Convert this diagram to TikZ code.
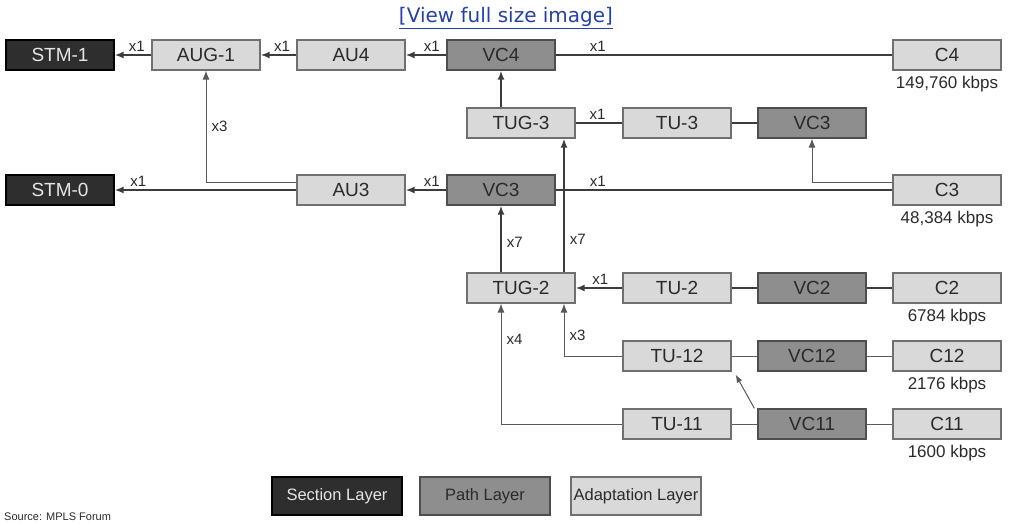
\documentclass[tikz,border=0pt]{standalone}
\usepackage{fontspec}
\setmainfont{Liberation Sans}
\newfontfamily\linkfont{DejaVu Sans}
\usetikzlibrary{arrows.meta,positioning}
\definecolor{secfill}{HTML}{2E2E2E}
\definecolor{pathfill}{HTML}{8E8E8E}
\definecolor{adfill}{HTML}{D9D9D9}
\definecolor{edge}{HTML}{707070}
\definecolor{wire}{HTML}{3C3C3C}
\definecolor{ink}{HTML}{2A2A2A}
\definecolor{linkblue}{HTML}{2540A8}
\tikzset{
  box/.style={draw=edge, line width=1.2pt, minimum width=108pt, minimum height=30pt,
              inner sep=0pt, text=ink, font=\fontsize{19}{21}\selectfont},
  secbox/.style={box, fill=secfill, draw=black, text=white!90!black},
  pathbox/.style={box, fill=pathfill, draw=edge!70!black},
  adbox/.style={box, fill=adfill},
  keybox/.style={minimum width=130pt, minimum height=38pt, font=\fontsize{16.5}{19}\selectfont},
  ar/.style={-{Latex[length=9pt,width=7pt]}, line width=1.8pt, draw=wire},
  ln/.style={line width=1.8pt, draw=wire},
  thinar/.style={-{Latex[length=9pt,width=7pt]}, line width=1pt, draw=wire!85},
  thinln/.style={line width=1pt, draw=wire!85},
  lbl/.style={font=\fontsize{15}{17}\selectfont, text=ink, inner sep=1pt},
  rate/.style={font=\fontsize{17}{19}\selectfont, text=ink, inner sep=0pt}
}

\begin{document}
\begin{tikzpicture}[x=1pt,y=-1pt]
  \useasboundingbox (0,0) rectangle (1009,524);

  \node[font=\linkfont\fontsize{20}{22}\selectfont, text=linkblue] (link) at (506,18)
    {\underline{[View full size image]}};

  % top row
  \node[secbox] (stm1) at (60,55) {STM-1};
  \node[adbox] (aug1) at (206,55) {AUG-1};
  \node[adbox] (au4) at (351,55) {AU4};
  \node[pathbox] (vc4) at (501,55) {VC4};
  \node[adbox] (c4) at (947,55) {C4};
  \node[rate, below=5pt of c4] (r4) {149,760 kbps};

  \node[adbox] (tug3) at (521,123) {TUG-3};
  \node[adbox] (tu3) at (677,123) {TU-3};
  \node[pathbox] (vc3a) at (812,123) {VC3};

  \node[secbox] (stm0) at (60,190) {STM-0};
  \node[adbox] (au3) at (351,190) {AU3};
  \node[pathbox] (vc3) at (501,190) {VC3};
  \node[adbox] (c3) at (947,190) {C3};
  \node[rate, below=5pt of c3] (r3) {48,384 kbps};

  \node[adbox] (tug2) at (521,288) {TUG-2};
  \node[adbox] (tu2) at (677,288) {TU-2};
  \node[pathbox] (vc2) at (812,288) {VC2};
  \node[adbox] (c2) at (947,288) {C2};
  \node[rate, below=5pt of c2] (r2) {6784 kbps};

  \node[adbox] (tu12) at (677,356) {TU-12};
  \node[pathbox] (vc12) at (812,356) {VC12};
  \node[adbox] (c12) at (947,356) {C12};
  \node[rate, below=5pt of c12] (r12) {2176 kbps};

  \node[adbox] (tu11) at (677,424) {TU-11};
  \node[pathbox] (vc11) at (812,424) {VC11};
  \node[adbox] (c11) at (947,424) {C11};
  \node[rate, below=5pt of c11] (r11) {1600 kbps};

  % connectors
  \draw[ar] (aug1) -- node[lbl, above=2pt, pos=0.4] (m1) {x1} (stm1);
  \draw[ar] (au4) -- node[lbl, above=2pt, pos=0.4] (m2) {x1} (aug1);
  \draw[ar] (vc4) -- node[lbl, above=2pt, pos=0.36] (m3) {x1} (au4);
  \draw[ln] (vc4) -- node[lbl, above=2pt, pos=0.125] (m4) {x1} (c4);
  \draw[ar] (tug3.north -| vc4) -- (vc4);
  \draw[ln] (tug3) -- node[lbl, above=2pt, pos=0.47] (m5) {x1} (tu3);
  \draw[ln] (tu3) -- (vc3a);
  \draw[thinar] ([yshift=8pt]c3.west) -| (vc3a);

  \draw[ar] (au3) -- node[lbl, above=2pt, pos=0.87] (m6) {x1} (stm0);
  \draw[thinar] ([yshift=8pt]au3.west) -| node[lbl, right=4pt, pos=0.75] (m7) {x3} (aug1);
  \draw[ar] (vc3) -- node[lbl, above=2pt, pos=0.36] (m8) {x1} (au3);
  \draw[ln] (vc3) -- node[lbl, above=2pt, pos=0.125] (m9) {x1} (c3);

  \draw[ar] (tug2.north -| vc3) -- node[lbl, right=4pt, pos=0.45] (m10) {x7} (vc3);
  \draw[ar] ([xshift=43pt]tug2.north) -- node[lbl, right=4pt, pos=0.25] (m11) {x7} ([xshift=43pt]tug3.south);
  \draw[ar] (tu2) -- node[lbl, above=2pt, pos=0.47] (m12) {x1} (tug2);
  \draw[ln] (tu2) -- (vc2);
  \draw[ln] (vc2) -- (c2);

  \draw[thinar] (tu12) -| node[lbl, right=4pt, pos=0.7] (m13) {x3} ([xshift=43pt]tug2.south);
  \draw[thinln] (tu12) -- (vc12);
  \draw[thinln] (vc12) -- (c12);
  \draw[thinar] (tu11) -| node[lbl, right=4pt, pos=0.85] (m14) {x4} (tug2.south -| vc3);
  \draw[thinln] (tu11) -- (vc11);
  \draw[thinln] (vc11) -- (c11);
  \draw[thinar, -{Latex[length=8pt,width=6pt]}] ([xshift=-3pt]vc11.north west) -- ([xshift=4pt,yshift=-3pt]tu12.south east);

  % legend
  \node[secbox, keybox] (ksec) at (337,496) {Section Layer};
  \node[pathbox, keybox] (kpath) at (485,496) {Path Layer};
  \node[adbox, keybox] (kad) at (636,496) {Adaptation Layer};
  \node[font=\fontsize{11}{13}\selectfont, text=ink, anchor=west, inner sep=0pt] (src) at (4,517) {Source: MPLS Forum};
\end{tikzpicture}
\end{document}
